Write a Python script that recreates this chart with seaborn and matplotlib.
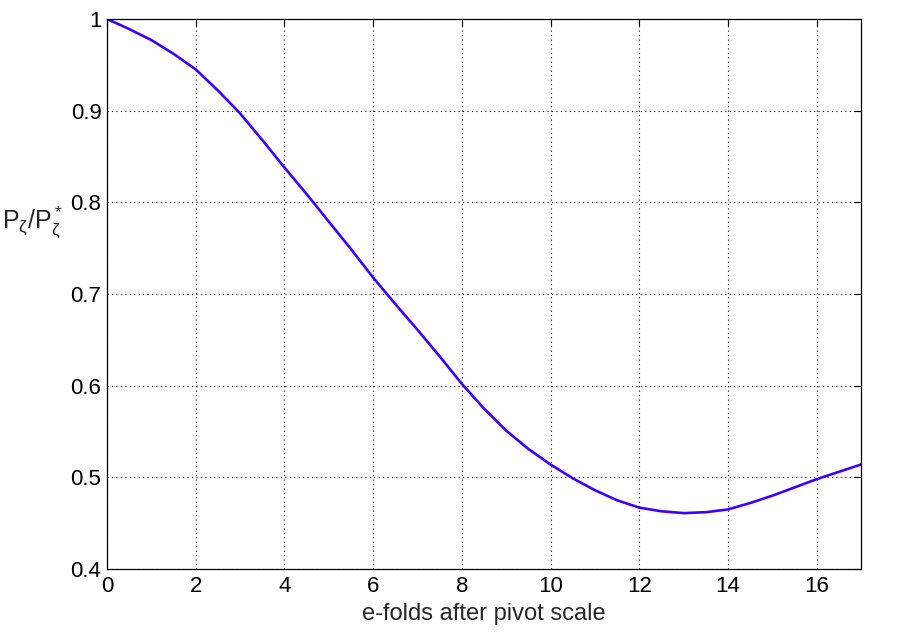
import matplotlib
matplotlib.use("Agg")
import matplotlib.pyplot as plt
import seaborn as sns
import pandas as pd

efolds = [0, 0.5, 1, 1.5, 2, 2.5, 3, 3.5, 4, 4.5, 5, 5.5, 6, 6.5, 7, 7.5, 8, 8.5,
          9, 9.5, 10, 10.5, 11, 11.5, 12, 12.5, 13, 13.5, 14, 14.5, 15, 15.5, 16, 16.5, 17]
ratio = [1.0, 0.989, 0.977, 0.962, 0.945, 0.922, 0.897, 0.868, 0.838, 0.809, 0.779,
         0.749, 0.718, 0.689, 0.661, 0.632, 0.602, 0.575, 0.551, 0.531, 0.514, 0.499,
         0.486, 0.475, 0.467, 0.463, 0.461, 0.462, 0.465, 0.472, 0.480, 0.489, 0.498,
         0.506, 0.514]
xticks = [0, 2, 4, 6, 8, 10, 12, 14, 16]
yticks = [0.4, 0.5, 0.6, 0.7, 0.8, 0.9, 1.0]
ytick_labels = ["0.4", "0.5", "0.6", "0.7", "0.8", "0.9", "1"]

sns.set_style("white")
plt.rcParams['font.family'] = ['Liberation Sans', 'DejaVu Sans']
plt.rcParams['mathtext.fontset'] = 'custom'
plt.rcParams['mathtext.rm'] = 'Liberation Sans'
plt.rcParams['mathtext.it'] = 'Liberation Sans'

df = pd.DataFrame({"x": efolds, "y": ratio})

fig = plt.figure(figsize=(9.01, 6.37), dpi=100)
ax = fig.add_axes([0.1188, 0.1067, 0.9556 - 0.1188, 0.9702 - 0.1067])
sns.lineplot(data=df, x="x", y="y", ax=ax, color="#3D00FF", linewidth=1.9)

ax.set_xlim(0, 17)
ax.set_ylim(0.4, 1.0)
ax.set_xticks(xticks)
ax.set_xticklabels([str(t) for t in xticks])
ax.set_yticks(yticks)
ax.set_yticklabels(ytick_labels)
ax.grid(True, linestyle=(0, (1, 3)), color="black", linewidth=0.8)
ax.tick_params(direction="in", top=True, right=True, length=5, width=0.8,
               labelsize=16, colors="black")
ax.tick_params(axis="y", pad=4)
ax.tick_params(axis="x", pad=5)
for s in ax.spines.values():
    s.set_visible(True)
    s.set_color("black")
    s.set_linewidth(0.9)

ax.set_xlabel("e-folds after pivot scale", fontsize=17, labelpad=4)
ax.set_ylabel(r"$\mathrm{P}_\zeta/\mathrm{P}_\zeta^*$", fontsize=18, rotation=0,
              ha="left", va="center")
ax.yaxis.set_label_coords(-0.139, 0.63)

fig.savefig("out.png", dpi=100, facecolor="white")
